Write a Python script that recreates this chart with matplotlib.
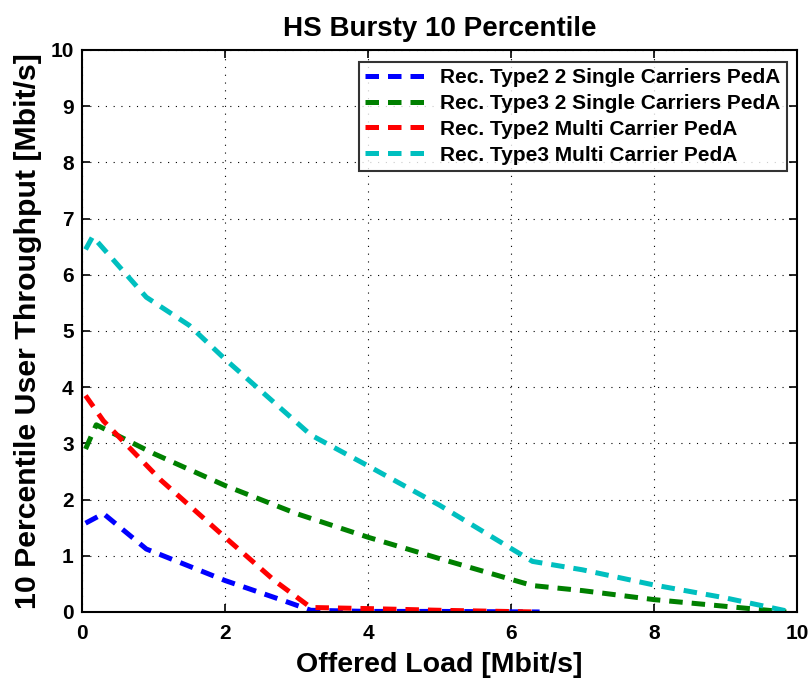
import matplotlib
matplotlib.use('Agg')
import matplotlib.pyplot as plt

x_t2_single = [0.05, 0.3, 0.9, 2.0, 2.8, 3.2, 4.0, 5.0, 6.4]
y_t2_single = [1.58, 1.75, 1.12, 0.56, 0.21, 0.03, 0.01, 0.01, 0.0]

x_t3_single = [0.05, 0.2, 1.0, 2.0, 3.0, 4.0, 5.0, 6.3, 7.0, 8.0, 9.0, 9.85]
y_t3_single = [2.9, 3.33, 2.82, 2.25, 1.75, 1.33, 0.95, 0.47, 0.38, 0.22, 0.1, 0.0]

x_t2_multi = [0.05, 0.3, 1.1, 2.0, 2.7, 3.2, 4.0, 5.0, 6.35]
y_t2_multi = [3.85, 3.4, 2.35, 1.33, 0.55, 0.08, 0.06, 0.03, 0.0]

x_t3_multi = [0.05, 0.15, 0.9, 1.5, 2.0, 3.2, 4.0, 5.0, 6.3, 7.0, 8.0, 9.0, 9.85]
y_t3_multi = [6.45, 6.68, 5.6, 5.1, 4.5, 3.15, 2.6, 1.9, 0.9, 0.75, 0.48, 0.25, 0.02]

labels = ['Rec. Type2 2 Single Carriers PedA',
          'Rec. Type3 2 Single Carriers PedA',
          'Rec. Type2 Multi Carrier PedA',
          'Rec. Type3 Multi Carrier PedA']
colors = ['#0000ff', '#008000', '#ff0000', '#00bfbf']

plt.rcParams['font.family'] = ['Liberation Sans', 'DejaVu Sans']

fig = plt.figure(figsize=(8.1, 6.84), dpi=100)
ax = fig.add_axes([0.1012, 0.1053, 0.8828, 0.8217])

series = [(x_t2_single, y_t2_single), (x_t3_single, y_t3_single),
          (x_t2_multi, y_t2_multi), (x_t3_multi, y_t3_multi)]
for (xs, ys), lab, col in zip(series, labels, colors):
    ax.plot(xs, ys, color=col, lw=3.6, ls=(0, (2.7, 1.8)), label=lab)

ax.set_xlim(0, 10)
ax.set_ylim(0, 10)
ax.set_xticks(range(0, 11, 2))
ax.set_yticks(range(0, 11))
ax.grid(True, color='black', ls=(0, (1, 6)), lw=0.8)
ax.tick_params(direction='in', top=True, right=True, length=6, width=1.2,
               labelsize=15)
ax.tick_params(axis='x', pad=9)
ax.tick_params(axis='y', pad=6)
for lbl in ax.get_xticklabels() + ax.get_yticklabels():
    lbl.set_fontweight('bold')
for sp in ax.spines.values():
    sp.set_linewidth(1.5)

ax.set_title('HS Bursty 10 Percentile', fontsize=20, fontweight='bold', pad=10)
ax.set_xlabel('Offered Load [Mbit/s]', fontsize=20.5, fontweight='bold', labelpad=6)
ax.set_ylabel('10 Percentile User Throughput [Mbit/s]', fontsize=21.8,
              fontweight='bold', labelpad=6)

leg = ax.legend(loc='upper right', bbox_to_anchor=(0.986, 0.979), fontsize=15,
                frameon=True, fancybox=False, edgecolor='black',
                handlelength=3.2, borderpad=0.3, labelspacing=0.33,
                handletextpad=0.4, borderaxespad=0)
leg.get_frame().set_linewidth(1.5)
for t in leg.get_texts():
    t.set_fontweight('bold')

fig.savefig('out.png', dpi=100)
